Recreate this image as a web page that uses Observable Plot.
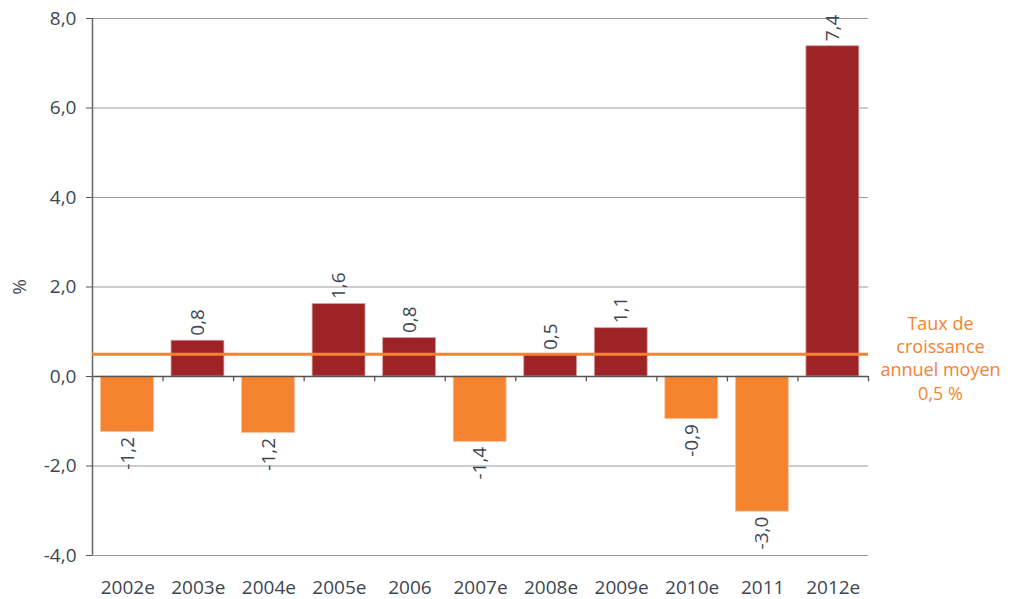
<!DOCTYPE html>
<html>
<head>
<meta charset="utf-8">
<script src="https://cdn.jsdelivr.net/npm/d3@7"></script>
<script src="https://cdn.jsdelivr.net/npm/@observablehq/plot@0.6"></script>
<style>
  html, body { margin: 0; padding: 0; background: #fff; }
  #chart { width: 1013px; height: 599px; }
</style>
</head>
<body>
<div id="chart"></div>
<script>
const categories = ["2002e", "2003e", "2004e", "2005e", "2006", "2007e", "2008e", "2009e", "2010e", "2011", "2012e"];
const values = [-1.24, 0.80, -1.26, 1.62, 0.86, -1.46, 0.48, 1.08, -0.95, -3.02, 7.38];
const valueLabels = ["-1,2", "0,8", "-1,2", "1,6", "0,8", "-1,4", "0,5", "1,1", "-0,9", "-3,0", "7,4"];
const average = 0.5;
const averageLabel = "Taux de\ncroissance\nannuel moyen\n0,5 %";
const yTicks = [-4, -2, 0, 2, 4, 6, 8];

const red = "#9E2326";
const orange = "#F5832F";
const textColor = "#3E4652";

const data = categories.map((c, i) => ({i, category: c, value: values[i], label: valueLabels[i]}));
const pos = data.filter(d => d.value >= 0);
const neg = data.filter(d => d.value < 0);
const fmt = d => d.toFixed(1).replace(".", ",");

const chart = Plot.plot({
  width: 1013,
  height: 599,
  marginLeft: 92,
  marginRight: 145,
  marginTop: 18,
  marginBottom: 44,
  style: {fontFamily: "'Open Sans', 'Noto Sans', sans-serif", fontSize: "19px", color: textColor, background: "#fff"},
  x: {domain: [0, categories.length], axis: null},
  y: {domain: [-4, 8], axis: null},
  marks: [
    Plot.ruleY(yTicks.filter(d => d !== 0), {stroke: "#9a9a9a", strokeWidth: 1}),
    Plot.rectY(data, {
      x1: d => d.i + 0.12, x2: d => d.i + 0.87, y1: 0, y2: "value",
      fill: d => d.value >= 0 ? red : orange,
      stroke: d => d.value >= 0 ? "#d9a0a1" : "#f9c29b", strokeWidth: 0.8
    }),
    Plot.ruleY([0], {stroke: "#555", strokeWidth: 1.3}),
    Plot.ruleX(d3.range(categories.length + 1), {y1: 0, y2: -0.12, stroke: "#555", strokeWidth: 1.3}),
    Plot.ruleX([0], {y1: -4, y2: 8, stroke: "#666", strokeWidth: 1.5}),
    Plot.axisY({ticks: yTicks, tickFormat: fmt, tickSize: 6, tickPadding: 10, stroke: "#555", fill: textColor,
      fontSize: 19, label: "%", labelAnchor: "center", labelOffset: 80, labelArrow: "none"}),
    Plot.axisX({ticks: categories.map((_, i) => i + 0.5), tickFormat: d => categories[Math.floor(d)],
      tickSize: 0, tickPadding: 25, fill: textColor, fontSize: 19, label: null}),
    Plot.ruleY([average], {stroke: orange, strokeWidth: 3}),
    Plot.text(pos, {
      x: d => d.i + 0.495, y: "value", text: "label", rotate: -90,
      textAnchor: "start", dy: -5, fill: textColor, fontSize: 19
    }),
    Plot.text(neg, {
      x: d => d.i + 0.495, y: "value", text: "label", rotate: -90,
      textAnchor: "end", dy: 5, fill: textColor, fontSize: 19
    }),
    Plot.text([averageLabel], {
      frameAnchor: "right", y: average, dx: 72, dy: 3, text: d => d,
      textAnchor: "middle", lineHeight: 1.3, fill: orange, fontSize: 18
    })
  ]
});

document.getElementById("chart").appendChild(chart);
</script>
</body>
</html>
